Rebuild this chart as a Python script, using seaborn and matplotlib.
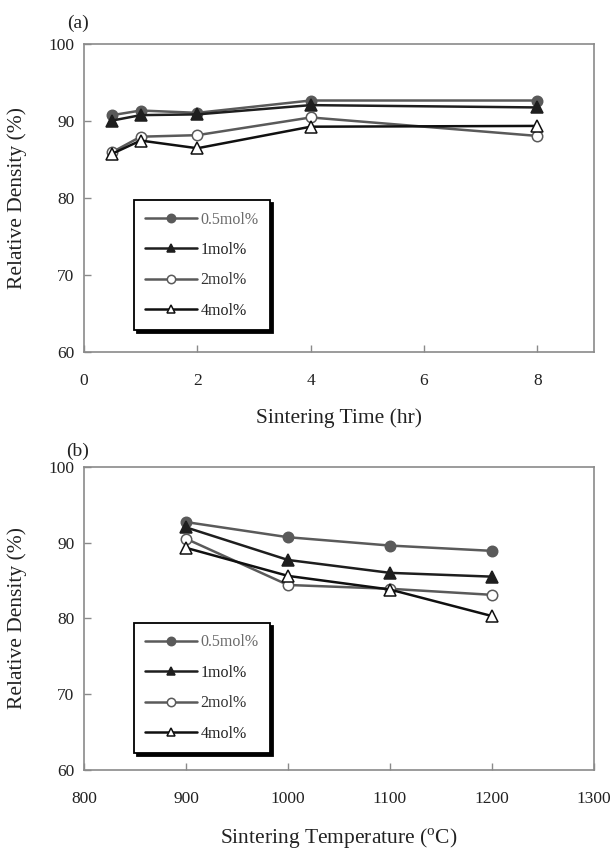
import matplotlib
matplotlib.use("Agg")
import matplotlib.pyplot as plt
import seaborn as sns
import pandas as pd

# ---- data ----
series = ["0.5mol%", "1mol%", "2mol%", "4mol%"]

time_hr = [0.5, 1, 2, 4, 8]
dens_time_05 = [90.8, 91.4, 91.1, 92.7, 92.7]
dens_time_1 = [90.1, 90.8, 90.9, 92.1, 91.8]
dens_time_2 = [86.0, 88.0, 88.2, 90.5, 88.1]
dens_time_4 = [85.8, 87.5, 86.5, 89.3, 89.4]

temp_c = [900, 1000, 1100, 1200]
dens_temp_05 = [92.7, 90.7, 89.6, 88.9]
dens_temp_1 = [92.0, 87.7, 86.0, 85.5]
dens_temp_2 = [90.5, 84.4, 83.9, 83.1]
dens_temp_4 = [89.3, 85.6, 83.8, 80.3]

xticks_a = [0, 2, 4, 6, 8]
xticks_b = [800, 900, 1000, 1100, 1200, 1300]
yticks = [60, 70, 80, 90, 100]

# ---- style ----
sns.set_theme(style="white")
plt.rcParams['font.family'] = ['Liberation Serif', 'DejaVu Serif']
plt.rcParams['mathtext.fontset'] = 'custom'
plt.rcParams['mathtext.rm'] = 'Liberation Serif'

line_colors = ["#5a5a5a", "#1e1e1e", "#5a5a5a", "#101010"]
markers = ["o", "^", "o", "^"]
filled = [True, True, False, False]
text_colors = ["#6a6a6a", "#222222", "#333333", "#222222"]

fig = plt.figure(figsize=(6.15, 8.56), dpi=100)
W, H = 615, 856


def add_axes(left, top, right, bottom):
    return fig.add_axes([left / W, 1 - bottom / H, (right - left) / W, (bottom - top) / H])


ax_a = add_axes(84, 44.3, 594, 352.3)
ax_b = add_axes(84, 466.7, 594, 770)


def draw(ax, x, ys, xlim, xticks, xlabel, legend_y):
    for name, y, c, m, f in zip(series, ys, line_colors, markers, filled):
        df = pd.DataFrame({"x": x, "y": y})
        sns.lineplot(data=df, x="x", y="y", ax=ax, color=c, lw=1.8,
                     marker=m, markersize=7.5 if m == "o" else 8,
                     markerfacecolor=c if f else "white",
                     markeredgecolor=c, markeredgewidth=1.1,
                     label=name, zorder=3)
    ax.set_xlim(*xlim)
    ax.set_ylim(60, 100)
    ax.set_xticks(xticks)
    ax.set_yticks(yticks)
    ax.set_xticklabels([str(t) for t in xticks])
    ax.set_yticklabels([str(t) for t in yticks])
    for s in ax.spines.values():
        s.set_color("#8a8a8a")
        s.set_linewidth(1.2)
    ax.tick_params(axis="both", direction="in", length=5, width=1.0,
                   color="#8a8a8a", labelsize=12.5, labelcolor="#222222",
                   bottom=True, left=True, top=False, right=False)
    ax.tick_params(axis="x", pad=15)
    ax.tick_params(axis="y", pad=7)
    ax.set_xlabel(xlabel, fontsize=15.5, color="#222222", labelpad=14)
    ax.set_ylabel("Relative Density (%)", fontsize=15.5, color="#222222", labelpad=15)
    ax.grid(False)
    leg = ax.legend(loc="upper left", bbox_to_anchor=(0.098, legend_y),
                    frameon=True, fancybox=False, shadow={"color": "black", "alpha": 1.0},
                    edgecolor="black", fontsize=11.5, handlelength=3.25,
                    labelspacing=0.9, borderpad=0.72, handletextpad=0.2,
                    borderaxespad=0)
    leg.get_frame().set_linewidth(1.3)
    for h in leg.legend_handles:
        h.set_markersize(6)
    for t, tc in zip(leg.get_texts(), text_colors):
        t.set_color(tc)


draw(ax_a, time_hr, [dens_time_05, dens_time_1, dens_time_2, dens_time_4],
     (0, 9), xticks_a, "Sintering Time (hr)", 0.494)
draw(ax_b, temp_c, [dens_temp_05, dens_temp_1, dens_temp_2, dens_temp_4],
     (800, 1300), xticks_b, r"Sintering Temperature ($^{\mathrm{o}}$C)", 0.485)

fig.text(67 / W, 1 - 23 / H, "(a)", fontsize=14, color="#222222", va="center", ha="left")
fig.text(66 / W, 1 - 451 / H, "(b)", fontsize=14, color="#222222", va="center", ha="left")

fig.savefig("out.png", dpi=100, facecolor="white")
